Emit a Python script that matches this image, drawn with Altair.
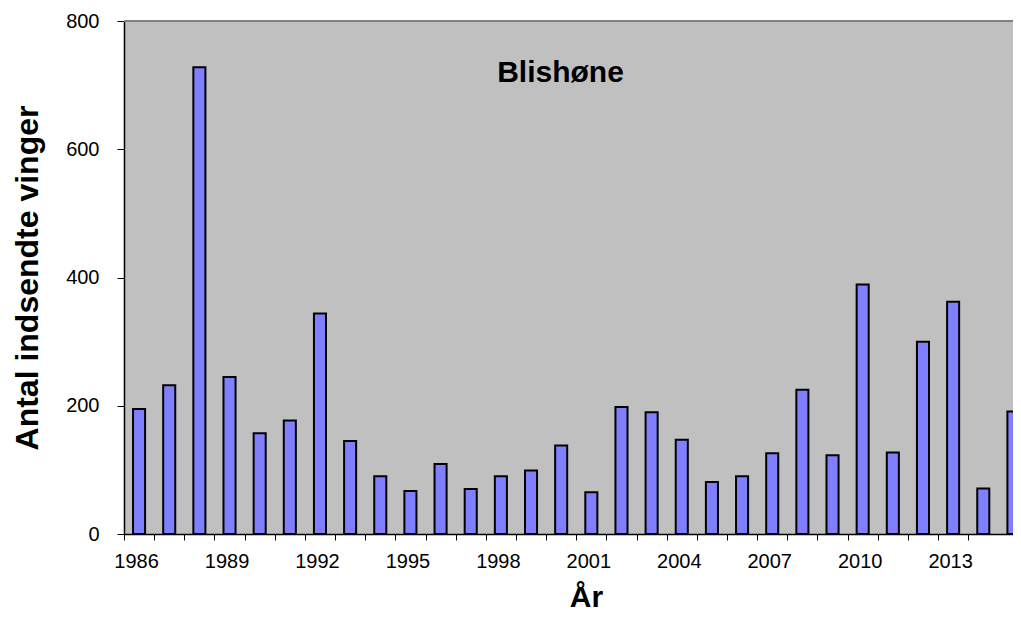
import altair as alt
import pandas as pd

years = list(range(1986, 2016))
counts = [195, 232, 728, 245, 157, 177, 344, 145, 90, 67,
          109, 70, 90, 99, 138, 65, 198, 190, 147, 81,
          90, 126, 225, 123, 389, 127, 300, 362, 71, 191]

title_text = "Blishøne"
y_title = "Antal indsendte vinger"
x_title = "År"
y_ticks = [0, 200, 400, 600, 800]

df = pd.DataFrame({"year": years, "count": counts})
FONT = "Liberation Sans"
W = 889
H = 513
PX_PER_YEAR = 30.15
x_max = 1985.5 + W / PX_PER_YEAR

xscale = alt.Scale(domain=[1985.5, x_max], nice=False, zero=False)
yscale = alt.Scale(domain=[0, 800], nice=False)

bars = alt.Chart(df).transform_calculate(
    x0="datum.year - 0.2", x1="datum.year + 0.2"
).mark_bar(fill="#8080FF", stroke="#000000", strokeWidth=2, clip=True).encode(
    x=alt.X("x0:Q", scale=xscale, axis=alt.Axis(
        values=years, format="d",
        labelExpr="datum.value % 3 == 0 ? datum.label : ''",
        tickOffset=-PX_PER_YEAR / 2, labelOffset=PX_PER_YEAR / 2 - 3,
        tickSize=6, tickColor="#000000", domainColor="#000000", domainWidth=1.5,
        labelFont=FONT, labelFontSize=20, labelColor="#000000", labelPadding=11,
        labelFlush=False, labelOverlap=False, labelBound=False, grid=False,
        title=x_title, titleFont=FONT, titleFontSize=30, titleFontWeight="bold",
        titleColor="#000000", titleX=462, titleY=72, titleBaseline="alphabetic",
        titleAlign="center", titleAnchor="middle")),
    x2="x1:Q",
    y=alt.Y("count:Q", scale=yscale, axis=alt.Axis(
        values=y_ticks, tickSize=7, tickColor="#000000", domainColor="#000000",
        domainWidth=1.5, labelFont=FONT, labelFontSize=20, labelColor="#000000",
        labelPadding=18, grid=False,
        title=y_title, titleFont=FONT, titleFontSize=32, titleFontWeight="bold",
        titleColor="#000000", titleX=-87, titleY=H / 2, titleBaseline="alphabetic",
        titleAlign="center", titleAnchor="middle", titleAngle=-90)),
    y2=alt.datum(0),
)

topline = alt.Chart(df).mark_rule(color="#808080", strokeWidth=2).encode(
    y=alt.datum(800, scale=yscale)
)

chart = alt.layer(bars, topline).properties(
    width=W, height=H,
    background="#FFFFFF",
    title=alt.Title(title_text, font=FONT, fontSize=30, fontWeight="bold",
                    color="#000000", anchor="middle", dx=-8, offset=-101,
                    baseline="alphabetic"),
    autosize=alt.AutoSizeParams(type="none"),
    padding={"left": 116, "top": 13, "right": 0, "bottom": 77},
).configure_view(fill="#C0C0C0", stroke="transparent")

chart.save("out.html", embed_options={"renderer": "svg", "actions": False})
